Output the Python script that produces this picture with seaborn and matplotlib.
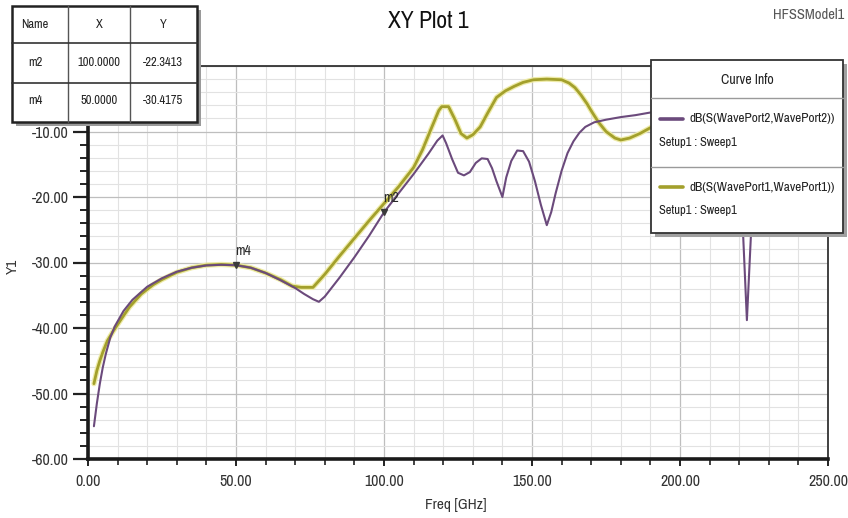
import numpy as np
import pandas as pd
import matplotlib
matplotlib.use("Agg")
import matplotlib.pyplot as plt
import matplotlib.patheffects as pe
from matplotlib import font_manager
from matplotlib.lines import Line2D
from matplotlib.patches import Rectangle
from matplotlib.ticker import MultipleLocator, FormatStrFormatter
import seaborn as sns

# ---- traces (frequency in GHz, magnitude in dB) ----
freq_s22 = [2, 3, 4, 5, 6, 7.5, 9, 12, 15, 20, 25, 30, 35, 40, 45, 50, 55, 60,
            65, 70, 73, 76, 78, 80, 85, 90, 95, 100, 105, 110, 115, 118, 119.8,
            121, 123, 125, 127, 129, 131, 133, 135, 136.5, 138, 140, 141.3, 143,
            145, 147, 149, 151, 153, 155, 156.5, 158, 160, 162, 164, 166, 168,
            171, 175, 180, 185, 190, 195, 200, 205, 210, 215, 218, 220, 221.3,
            222.6, 224, 226, 229, 235, 240, 245, 250]
db_s22 = [-55.0, -51.5, -48.5, -46.0, -44.0, -41.5, -39.8, -37.4, -35.7, -33.7,
          -32.4, -31.4, -30.8, -30.45, -30.35, -30.4175, -30.8, -31.6, -32.7,
          -33.9, -34.8, -35.6, -36.0, -35.2, -32.3, -29.2, -25.9, -22.3413,
          -19.4, -16.5, -13.4, -11.4, -10.6, -11.8, -14.2, -16.3, -16.7, -16.2,
          -14.8, -14.1, -14.2, -15.6, -17.6, -20.0, -17.0, -14.5, -12.9, -13.0,
          -14.6, -17.6, -21.2, -24.3, -22.3, -19.4, -16.0, -13.3, -11.5, -10.2,
          -9.3, -8.6, -8.2, -7.8, -7.5, -7.1, -6.8, -6.8, -7.2, -8.0, -9.5,
          -12.0, -18.0, -25.5, -38.8, -25.5, -15.0, -11.0, -10.0, -10.5, -11.0,
          -12.0]

freq_s11 = [2, 3, 4, 5, 6.5, 8.5, 11, 14, 18, 22, 25, 30, 35, 40, 45, 50, 55,
            60, 65, 69, 72, 76, 80, 85, 90, 95, 100, 105, 110, 113, 116, 118.5,
            119.5, 121.8, 124, 126, 128, 130, 132.5, 135, 138, 141, 144, 147,
            150.5, 155, 160, 162.5, 164.5, 166.5, 168.5, 170.5, 172.5, 175, 178,
            180, 183, 186.5, 190.5, 195, 200, 210, 220, 230, 240, 250]
db_s11 = [-48.5, -46.5, -45.0, -43.7, -42.0, -40.5, -38.8, -36.8, -34.8, -33.4,
          -32.6, -31.5, -30.8, -30.4, -30.3, -30.4, -30.8, -31.6, -32.6, -33.6,
          -33.8, -33.8, -31.8, -29.0, -26.3, -23.6, -21.0, -18.4, -15.5, -12.8,
          -9.5, -6.8, -6.2, -6.2, -8.2, -10.3, -11.0, -10.5, -9.3, -7.2, -4.8,
          -3.8, -3.1, -2.5, -2.1, -2.0, -2.1, -2.6, -3.3, -4.4, -5.7, -7.2, -8.6,
          -10.0, -11.0, -11.3, -11.0, -10.3, -9.3, -8.3, -7.5, -7.3, -8.0, -9.0,
          -10.0, -11.0]

trace_names = ["dB(S(WavePort2,WavePort2))", "dB(S(WavePort1,WavePort1))"]
sweep_label = "Setup1 : Sweep1"

# ---- markers ----
marker_names = ["m2", "m4"]
marker_x = [100.0, 50.0]
marker_y = [-22.3413, -30.4175]

x_ticks = [0, 50, 100, 150, 200, 250]
y_ticks = [-60, -50, -40, -30, -20, -10, 0]

W, H = 848, 518
PURPLE = "#6B4A7C"
OLIVE = "#A3A02C"

sns.set_theme(style="white")
plt.rcParams["font.family"] = ["DejaVu Sans"]
plt.rcParams["font.stretch"] = "condensed"

# pick a narrow face when one is installed
narrow = None
for f in font_manager.fontManager.ttflist:
    n = f.name.lower()
    if ("narrow" in n or "condensed" in n) and "bold" not in f.style.lower() \
            and f.weight in (400, "normal", "regular") and f.style == "normal":
        narrow = f.name
        break
if narrow is None:
    for f in font_manager.fontManager.ttflist:
        if f.name == "DejaVu Sans" and "condensed" in str(f.stretch).lower():
            narrow = "DejaVu Sans"
            break
if narrow is not None:
    plt.rcParams["font.family"] = [narrow, "DejaVu Sans"]

fig = plt.figure(figsize=(W / 100, H / 100), dpi=100)
fig.patch.set_facecolor("white")


def fx(px):
    return px / W


def fy(py):
    return 1 - py / H


ax_l, ax_r, ax_t, ax_b = 88, 828, 66, 459
ax = fig.add_axes([fx(ax_l), fy(ax_b), (ax_r - ax_l) / W, (ax_b - ax_t) / H])

df11 = pd.DataFrame({"freq": freq_s11, "db": db_s11})
df22 = pd.DataFrame({"freq": freq_s22, "db": db_s22})

sns.lineplot(data=df11, x="freq", y="db", ax=ax, color=OLIVE, lw=2.0,
             sort=False, estimator=None, zorder=3,
             path_effects=[pe.withStroke(linewidth=3.8, foreground="#EEEBA8")])
sns.lineplot(data=df22, x="freq", y="db", ax=ax, color=PURPLE, lw=1.5,
             sort=False, estimator=None, zorder=4)

ax.set_xlim(0, 250)
ax.set_ylim(-60, 0)
ax.set_xticks(x_ticks)
ax.set_yticks(y_ticks)
ax.xaxis.set_minor_locator(MultipleLocator(10))
ax.yaxis.set_minor_locator(MultipleLocator(2))
ax.xaxis.set_major_formatter(FormatStrFormatter("%.2f"))
ax.yaxis.set_major_formatter(FormatStrFormatter("%.2f"))

ax.grid(which="major", color="#BEBEBE", lw=0.9)
ax.grid(which="minor", color="#E2E2E2", lw=0.8)
ax.set_axisbelow(True)

for side in ("left", "bottom"):
    ax.spines[side].set_color("#1A1A1A")
    ax.spines[side].set_linewidth(2.6)
for side in ("top", "right"):
    ax.spines[side].set_color("#333333")
    ax.spines[side].set_linewidth(1.3)

ax.tick_params(axis="y", which="major", direction="out", length=11, width=1.6,
               color="#222222", labelsize=11.5, pad=3, labelcolor="#333333", left=True)
ax.tick_params(axis="y", which="minor", direction="out", length=6, width=1.4,
               color="#222222", left=True)
ax.tick_params(axis="x", which="major", direction="out", length=5, width=1.4,
               color="#222222", labelsize=11.5, pad=6, labelcolor="#333333", bottom=True)
ax.tick_params(axis="x", which="minor", direction="out", length=4, width=1.2,
               color="#222222", bottom=True)

ax.set_xlabel("")
ax.set_ylabel("")
fig.text(fx(456), fy(505), "Freq [GHz]", ha="center", va="center", fontsize=11,
         color="#333333")
fig.text(fx(13), fy(266), "Y1", ha="center", va="center", rotation=90,
         fontsize=11, color="#333333")

# marker points and their labels
for name, mx, my in zip(marker_names, marker_x, marker_y):
    ax.plot([mx], [my], marker="v", ms=5, color="#3A3A3A", zorder=6)
    ax.annotate(name, (mx, my), xytext=(5, 5), textcoords="offset points",
                ha="center", va="bottom", fontsize=10, color="#2A2A2A", zorder=6)

# title and model name
fig.text(fx(428), fy(22), "XY Plot 1", ha="center", va="center", fontsize=17,
         color="#111111")
fig.text(fx(809), fy(15), "HFSSModel1", ha="center", va="center", fontsize=10.5,
         color="#555555")

# ---- marker table ----
tl, tr, tt, tb = 12, 197, 6, 122
fig.add_artist(Rectangle((fx(tl + 4), fy(tb + 4)), (tr - tl) / W, (tb - tt) / H,
                         transform=fig.transFigure, facecolor="#9A9A9A",
                         edgecolor="none", zorder=5))
fig.add_artist(Rectangle((fx(tl), fy(tb)), (tr - tl) / W, (tb - tt) / H,
                         transform=fig.transFigure, facecolor="white",
                         edgecolor="#222222", lw=1.8, zorder=6))
for cx in (68, 130):
    fig.add_artist(Line2D([fx(cx), fx(cx)], [fy(tt), fy(tb)], color="#555555",
                          lw=1.0, transform=fig.transFigure, zorder=7))
for ry in (43, 83):
    fig.add_artist(Line2D([fx(tl), fx(tr)], [fy(ry), fy(ry)], color="#333333",
                          lw=1.2, transform=fig.transFigure, zorder=7))
col_x = [35, 99, 163]
row_y = [25, 63, 101]
rows = [["Name", "X", "Y"]] + [
    [n, f"{x:.4f}", f"{y:.4f}"] for n, x, y in zip(marker_names, marker_x, marker_y)
]
for r, row in enumerate(rows):
    for c, txt in enumerate(row):
        fig.text(fx(col_x[c]), fy(row_y[r]), txt, ha="center", va="center",
                 fontsize=9, color="#222222", zorder=8)

# ---- curve info box ----
ll, lr, lt, lb = 651, 843, 60, 233
fig.add_artist(Rectangle((fx(ll + 4), fy(lb + 4)), (lr - ll) / W, (lb - lt) / H,
                         transform=fig.transFigure, facecolor="#A0A0A0",
                         edgecolor="none", zorder=5))
fig.add_artist(Rectangle((fx(ll), fy(lb)), (lr - ll) / W, (lb - lt) / H,
                         transform=fig.transFigure, facecolor="white",
                         edgecolor="#333333", lw=1.3, zorder=6))
fig.text(fx((ll + lr) / 2), fy(80), "Curve Info", ha="center", va="center",
         fontsize=10, color="#222222", zorder=8)
for ry in (98, 167):
    fig.add_artist(Line2D([fx(ll), fx(lr)], [fy(ry), fy(ry)], color="#9A9A9A",
                          lw=1.0, transform=fig.transFigure, zorder=7))
for name, col, y0 in zip(trace_names, [PURPLE, OLIVE], [119, 187]):
    fig.add_artist(Line2D([fx(660), fx(683)], [fy(y0), fy(y0)], color=col,
                          lw=2.6, transform=fig.transFigure, zorder=8))
    fig.text(fx(689), fy(y0), name, ha="left", va="center", fontsize=9.5,
             color="#222222", zorder=8)
    fig.text(fx(659), fy(y0 + 24), sweep_label, ha="left", va="center",
             fontsize=9, color="#222222", zorder=8)

fig.savefig("out.png", dpi=100, facecolor="white")
